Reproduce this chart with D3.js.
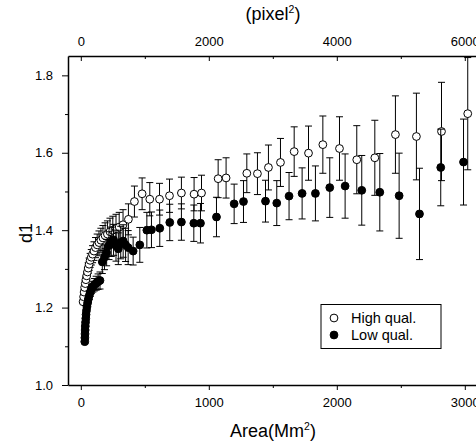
<!DOCTYPE html>
<html>
<head>
<meta charset="utf-8">
<script src="https://cdnjs.cloudflare.com/ajax/libs/d3/7.8.5/d3.min.js"></script>
<style>
  body { margin: 0; background: #fff; }
  svg { display: block; font-family: "Liberation Sans", Arial, sans-serif; }
</style>
</head>
<body>
<div id="chart"></div>
<script>
// High quality series (open circles): area (Mm^2), d1, error
const hiArea = [18, 22, 26, 30, 35, 40, 46, 52, 58, 65, 73, 82, 92, 103, 115, 128, 142, 157, 173, 190,
  208, 228, 250, 275, 300, 330, 372, 419, 479, 539, 615, 693, 786, 885, 943, 1073, 1135, 1297, 1380,
  1466, 1560, 1667, 1779, 1891, 2021, 2156, 2297, 2458, 2622, 2818, 3023];
const hiD1 = [1.215, 1.228, 1.240, 1.252, 1.262, 1.272, 1.282, 1.292, 1.302, 1.312, 1.322, 1.330, 1.338,
  1.346, 1.355, 1.362, 1.368, 1.374, 1.380, 1.386, 1.390, 1.396, 1.400, 1.404, 1.408, 1.414, 1.428, 1.474,
  1.494, 1.480, 1.480, 1.489, 1.496, 1.493, 1.496, 1.533, 1.535, 1.547, 1.546, 1.562, 1.575, 1.603, 1.599,
  1.621, 1.611, 1.582, 1.587, 1.647, 1.642, 1.655, 1.701];
const hiErr = [0.004, 0.005, 0.006, 0.007, 0.008, 0.009, 0.010, 0.012, 0.014, 0.016, 0.018, 0.020, 0.022,
  0.024, 0.026, 0.028, 0.030, 0.031, 0.032, 0.033, 0.034, 0.035, 0.036, 0.037, 0.038, 0.039, 0.040, 0.040,
  0.041, 0.043, 0.041, 0.043, 0.041, 0.043, 0.046, 0.049, 0.052, 0.050, 0.054, 0.058, 0.062, 0.064, 0.070,
  0.074, 0.082, 0.088, 0.097, 0.100, 0.112, 0.127, 0.145];

// Low quality series (filled circles)
const loArea = [31, 32, 33, 34, 35, 37, 39, 41, 44, 48, 53, 59, 66, 74, 83, 94, 106, 120, 135, 150,
  168, 185, 202, 220, 238, 256, 275, 293, 312, 331, 350, 370, 409, 461, 516, 552, 617, 695, 786, 883,
  935, 1060, 1198, 1271, 1443, 1531, 1627, 1729, 1833, 1945, 2065, 2195, 2336, 2487, 2646, 2812, 2990];
const loD1 = [1.112, 1.122, 1.132, 1.142, 1.152, 1.162, 1.172, 1.182, 1.192, 1.202, 1.212, 1.222, 1.231,
  1.240, 1.248, 1.254, 1.259, 1.263, 1.267, 1.270, 1.318, 1.330, 1.342, 1.360, 1.370, 1.375, 1.360, 1.352,
  1.368, 1.372, 1.362, 1.355, 1.346, 1.362, 1.400, 1.401, 1.405, 1.420, 1.421, 1.418, 1.418, 1.434, 1.468,
  1.474, 1.475, 1.470, 1.488, 1.495, 1.495, 1.510, 1.514, 1.503, 1.498, 1.489, 1.442, 1.562, 1.576];
const loErr = [0.004, 0.004, 0.004, 0.005, 0.005, 0.005, 0.006, 0.006, 0.007, 0.007, 0.008, 0.009, 0.010,
  0.011, 0.012, 0.014, 0.016, 0.018, 0.020, 0.022, 0.030, 0.032, 0.034, 0.036, 0.038, 0.040, 0.040, 0.041,
  0.042, 0.042, 0.043, 0.044, 0.036, 0.045, 0.046, 0.046, 0.047, 0.047, 0.047, 0.047, 0.051, 0.051, 0.051,
  0.054, 0.054, 0.058, 0.061, 0.066, 0.071, 0.077, 0.083, 0.090, 0.100, 0.110, 0.118, 0.099, 0.111];

// Axis ticks
const xMajor = [0, 1000, 2000, 3000];
const xMinor = [500, 1500, 2500];
const topMajor = [0, 2000, 4000, 6000];
const topMinor = [1000, 3000, 5000];
const yMajor = [1.0, 1.2, 1.4, 1.6, 1.8];
const yMinor = [1.1, 1.3, 1.5, 1.7];

const legendLabels = ["High qual.", "Low qual."];

const width = 476, height = 447;
const margin = {left: 68, top: 56, bottom: 385};

const svg = d3.select("#chart").append("svg")
    .attr("width", width)
    .attr("height", height);

// plot area extends beyond the right edge of the image
const x = d3.scaleLinear().domain([-100, 3250]).range([margin.left, 496.8]);
const xTop = d3.scaleLinear().domain([-200, 6500]).range([margin.left, 496.8]);
const y = d3.scaleLinear().domain([1.0, 1.85]).range([margin.bottom, margin.top]);

function series(xs, ys, es) {
    return xs.map((a, i) => ({a: a, d: ys[i], e: es[i]}));
}
const hi = series(hiArea, hiD1, hiErr);
const lo = series(loArea, loD1, loErr);

// Draw a series with error bars
function drawSeries(data, fill) {
    const g = svg.append("g");
    const bars = g.selectAll("g.err").data(data).enter().append("g")
        .attr("stroke", "#000")
        .attr("stroke-width", 1);
    bars.append("line")
        .attr("x1", d => x(d.a)).attr("x2", d => x(d.a))
        .attr("y1", d => y(d.d - d.e)).attr("y2", d => y(d.d + d.e));
    bars.append("line")
        .attr("x1", d => x(d.a) - 3.5).attr("x2", d => x(d.a) + 3.5)
        .attr("y1", d => y(d.d + d.e)).attr("y2", d => y(d.d + d.e));
    bars.append("line")
        .attr("x1", d => x(d.a) - 3.5).attr("x2", d => x(d.a) + 3.5)
        .attr("y1", d => y(d.d - d.e)).attr("y2", d => y(d.d - d.e));
    g.selectAll("circle").data(data).enter().append("circle")
        .attr("cx", d => x(d.a))
        .attr("cy", d => y(d.d))
        .attr("r", 3.9)
        .attr("fill", fill)
        .attr("stroke", "#000")
        .attr("stroke-width", 1);
}

drawSeries(hi, "#fff");
drawSeries(lo, "#000");

// Axes
function styleAxis(g) {
    g.select(".domain").attr("stroke-width", 1.5);
    g.selectAll(".tick line").attr("stroke-width", 1);
    g.selectAll("text").attr("font-size", 13).attr("fill", "#000");
}

svg.append("g")
    .attr("transform", `translate(0,${margin.bottom})`)
    .call(d3.axisBottom(x).tickValues(xMajor).tickSize(5).tickSizeOuter(0).tickPadding(8).tickFormat(d3.format("d")))
    .call(styleAxis);
svg.append("g")
    .attr("transform", `translate(0,${margin.bottom})`)
    .call(d3.axisBottom(x).tickValues(xMinor).tickSize(3).tickSizeOuter(0).tickFormat(""))
    .call(g => g.select(".domain").remove());

svg.append("g")
    .attr("transform", `translate(0,${margin.top})`)
    .call(d3.axisTop(xTop).tickValues(topMajor).tickSize(-5).tickSizeOuter(0).tickPadding(10).tickFormat(d3.format("d")))
    .call(styleAxis);
svg.append("g")
    .attr("transform", `translate(0,${margin.top})`)
    .call(d3.axisTop(xTop).tickValues(topMinor).tickSize(-3).tickSizeOuter(0).tickFormat(""))
    .call(g => g.select(".domain").remove());

svg.append("g")
    .attr("transform", `translate(${margin.left},0)`)
    .call(d3.axisLeft(y).tickValues(yMajor).tickSize(6).tickSizeOuter(0).tickPadding(9).tickFormat(d3.format(".1f")))
    .call(styleAxis);
svg.append("g")
    .attr("transform", `translate(${margin.left},0)`)
    .call(d3.axisLeft(y).tickValues(yMinor).tickSize(3).tickSizeOuter(0).tickFormat(""))
    .call(g => g.select(".domain").remove());

// Axis titles
const xt = svg.append("text")
    .attr("x", 273).attr("y", 437)
    .attr("text-anchor", "middle")
    .attr("font-size", 18);
xt.append("tspan").text("Area(Mm");
xt.append("tspan").attr("font-size", 10.5).attr("dy", -7.5).text("2");
xt.append("tspan").attr("dy", 7.5).text(")");

const tt = svg.append("text")
    .attr("x", 273).attr("y", 20)
    .attr("text-anchor", "middle")
    .attr("font-size", 18);
tt.append("tspan").text("(pixel");
tt.append("tspan").attr("font-size", 10.5).attr("dy", -7.5).text("2");
tt.append("tspan").attr("dy", 7.5).text(")");

svg.append("text")
    .attr("transform", "translate(32,233) rotate(-90)")
    .attr("text-anchor", "middle")
    .attr("font-size", 18)
    .text("d1");

// Legend
const legend = svg.append("g");
legend.append("rect")
    .attr("x", 321).attr("y", 304.5)
    .attr("width", 120).attr("height", 44)
    .attr("fill", "#fff")
    .attr("stroke", "#000")
    .attr("stroke-width", 1);
const legendRows = legend.selectAll("g.row").data(legendLabels).enter().append("g")
    .attr("transform", (d, i) => `translate(0,${318 + i * 17})`);
legendRows.append("circle")
    .attr("cx", 334).attr("cy", 0).attr("r", 3.9)
    .attr("fill", (d, i) => i === 0 ? "#fff" : "#000")
    .attr("stroke", "#000");
legendRows.append("text")
    .attr("x", 351).attr("dy", "0.35em")
    .attr("font-size", 14.5)
    .text(d => d);
</script>
</body>
</html>
